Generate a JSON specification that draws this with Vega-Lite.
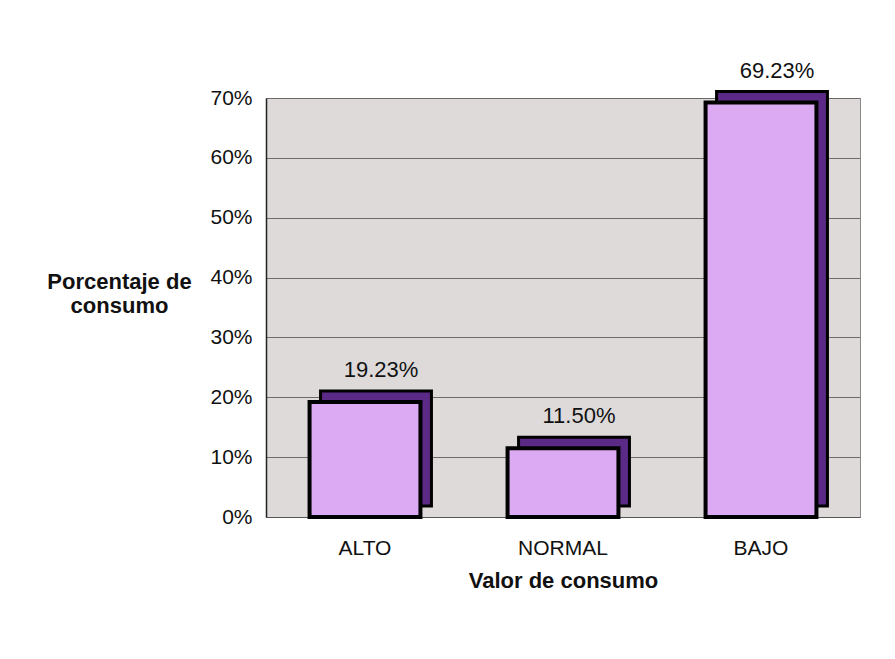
{
  "$schema": "https://vega.github.io/schema/vega-lite/v6.json",
  "width": 594,
  "height": 419,
  "autosize": {"type": "none"},
  "padding": {"left": 266, "top": 98, "right": 35, "bottom": 142},
  "background": "#ffffff",
  "config": {
    "font": "Liberation Sans",
    "view": {"fill": "#dedada", "stroke": "#8a8a8a", "strokeWidth": 1}
  },
  "data": {
    "values": [
      {"valor": "ALTO", "pct": 0.1923},
      {"valor": "NORMAL", "pct": 0.115},
      {"valor": "BAJO", "pct": 0.6923}
    ]
  },
  "encoding": {
    "x": {
      "field": "valor",
      "type": "nominal",
      "sort": ["ALTO", "NORMAL", "BAJO"],
      "scale": {"paddingInner": 0.44, "paddingOuter": 0.22},
      "axis": {
        "title": "Valor de consumo",
        "titleFont": "Liberation Sans",
        "titleFontSize": 22,
        "titleFontWeight": "bold",
        "titleColor": "#111111",
        "titlePadding": 12,
        "labelAngle": 0,
        "labelFontSize": 21,
        "labelColor": "#111111",
        "labelPadding": 20,
        "ticks": false,
        "domainColor": "#555555"
      }
    },
    "y": {
      "field": "pct",
      "type": "quantitative",
      "scale": {"domain": [0, 0.7]},
      "axis": {
        "format": ".0%",
        "values": [0, 0.1, 0.2, 0.3, 0.4, 0.5, 0.6, 0.7],
        "title": ["Porcentaje de", "consumo"],
        "titleAngle": 0,
        "titleAlign": "center",
        "titleBaseline": "alphabetic",
        "titleX": -147,
        "titleY": 190,
        "titleLineHeight": 24,
        "titleFontSize": 22,
        "titleFontWeight": "bold",
        "titleColor": "#111111",
        "labelFontSize": 21,
        "labelColor": "#111111",
        "labelPadding": 14,
        "ticks": false,
        "domainColor": "#222222",
        "domainWidth": 1.5,
        "grid": true,
        "gridColor": "#6e6a6a",
        "gridWidth": 1
      }
    }
  },
  "layer": [
    {
      "mark": {"type": "bar", "color": "#5b2a86", "stroke": "#000000", "strokeWidth": 3, "xOffset": 11, "yOffset": -11}
    },
    {
      "mark": {"type": "bar", "color": "#dcaaf2", "stroke": "#000000", "strokeWidth": 4}
    },
    {
      "mark": {"type": "text", "baseline": "bottom", "dy": -20, "dx": 16, "fontSize": 22, "color": "#111111"},
      "encoding": {"text": {"field": "pct", "type": "quantitative", "format": ".2%"}}
    }
  ]
}
